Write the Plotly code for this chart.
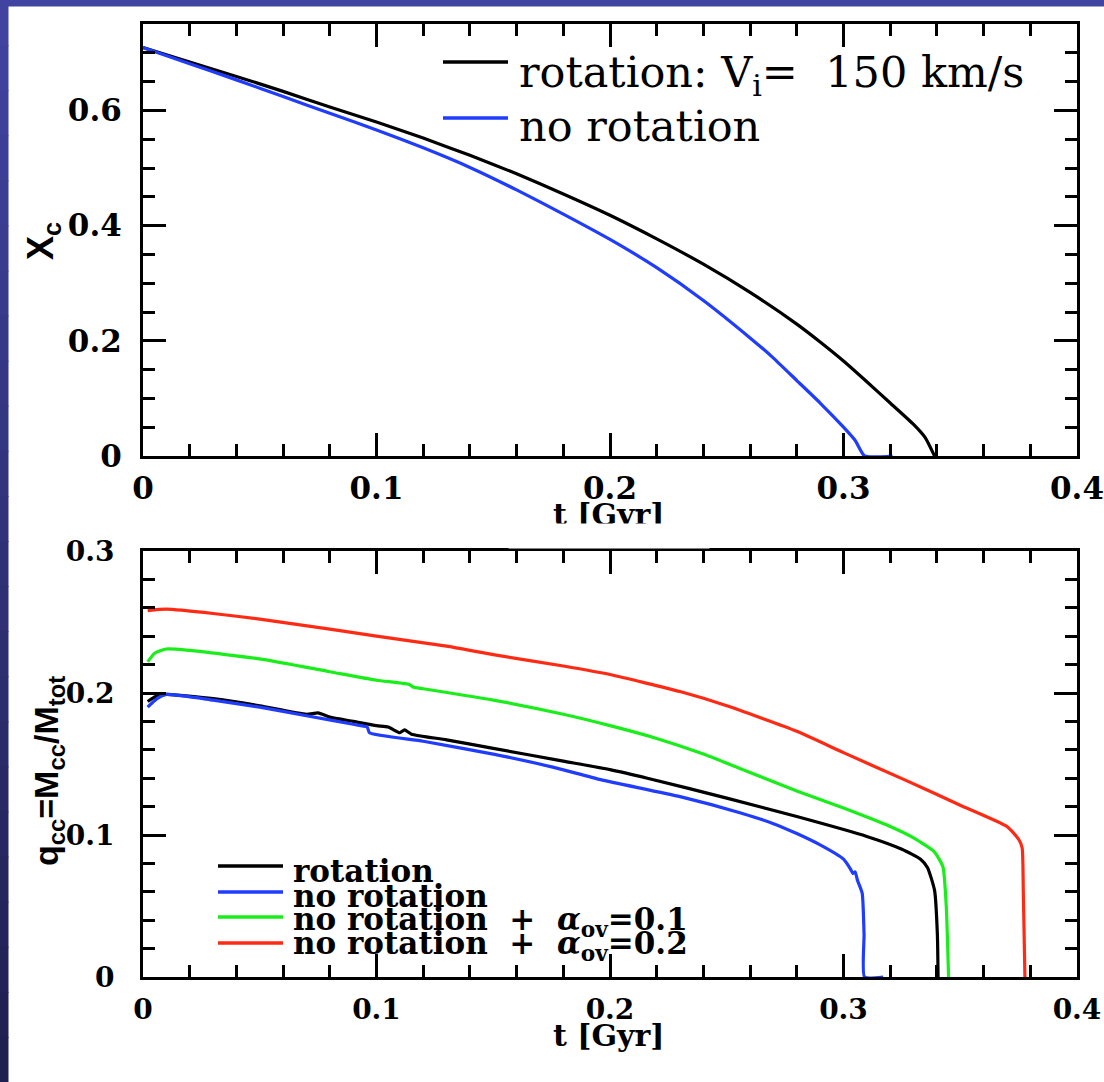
import plotly.graph_objects as go

# ---------------- data ----------------
# top panel: central hydrogen abundance X_c vs time [Gyr]
t_rot = [0, .02, .04, .06, .08, .10, .12, .14, .16, .18, .20, .22, .24, .26, .28, .29, .30, .31, .32, .33, .335, .339]
xc_rot = [.709, .684, .659, .633, .606, .580, .552, .522, .490, .455, .418, .377, .333, .284, .229, .198, .165, .129, .092, .055, .032, 0]
t_norot = [0, .02, .04, .06, .08, .10, .12, .14, .16, .18, .20, .22, .24, .26, .27, .28, .29, .30, .305, .309, .321]
xc_norot = [.709, .681, .653, .624, .595, .566, .535, .501, .462, .420, .376, .327, .270, .205, .170, .131, .092, .050, .027, 0, 0]

# bottom panel: convective core mass fraction q_cc vs time [Gyr]
tq_rot = [.002, .006, .01, .03, .05, .07, .075, .08, .09, .10, .105, .11, .112, .115, .13, .15, .18, .20, .216,
          .25, .28, .31, .325, .333, .336, .339, .3402, .3405]
q_rot = [.194, .198, .199, .196, .191, .185, .186, .183, .180, .177, .176, .172, .174, .171, .167, .161, .152, .146, .140,
         .126, .113, .099, .090, .083, .077, .061, .030, 0]
tq_norot = [.002, .006, .01, .03, .05, .07, .09, .096, .097, .12, .15, .175, .196, .23, .256, .27, .28, .29, .30,
            .303, .304, .305, .306, .308, .3088, .309, .317]
q_norot = [.190, .196, .199, .195, .190, .184, .178, .176, .172, .166, .157, .148, .139, .127, .1155, .108, .101, .093, .083,
           .076, .073, .074, .068, .059, .030, 0, 0]
tq_ov1 = [.002, .005, .01, .02, .05, .08, .10, .114, .116, .12, .15, .18, .20, .22, .24, .26, .28, .30, .32,
          .33, .339, .3426, .344, .345]
q_ov1 = [.222, .228, .231, .230, .224, .215, .209, .206, .204, .203, .195, .185, .177, .168, .157, .144, .131, .119, .106,
         .098, .088, .0775, .05, 0]
tq_ov2 = [.002, .01, .03, .05, .08, .10, .13, .15, .18, .20, .23, .25, .28, .30, .326, .35, .37, .375, .3765, .377, .3777]
q_ov2 = [.258, .259, .256, .252, .245, .240, .233, .227, .219, .213, .201, .191, .173, .158, .139, .121, .106, .097, .091, .06, 0]

x_ticks = [0, 0.1, 0.2, 0.3, 0.4]
x_title = "t [Gyr]"
top_legend = ["rotation: V<sub>i</sub>=  150 km/s", "no rotation"]
bot_legend = ["rotation", "no rotation", "no rotation  +  <i>α</i><sub>ov</sub>=0.1",
              "no rotation  +  <i>α</i><sub>ov</sub>=0.2"]

BLACK, BLUE, GREEN, RED = "#000000", "#1f3cff", "#1aee1a", "#ff2a14"

# ---------------- geometry helpers (pixels -> paper) ----------------
W, H = 1104, 1082
L, R, T, B = 143, 1077, 24, 977


def px(x):
    return (x - L) / (R - L)


def py(y):
    return (B - y) / (B - T)


fig = go.Figure()
lw = 3.2


def add(x, y, col, xa, ya):
    fig.add_trace(go.Scatter(x=x, y=y, mode="lines", line=dict(color=col, width=lw, shape="spline", smoothing=0.5),
                             xaxis=xa, yaxis=ya))


add(t_rot, xc_rot, BLACK, "x", "y")
add(t_norot, xc_norot, BLUE, "x", "y")
add(tq_ov2, q_ov2, RED, "x2", "y2")
add(tq_ov1, q_ov1, GREEN, "x2", "y2")
add(tq_rot, q_rot, BLACK, "x2", "y2")
add(tq_norot, q_norot, BLUE, "x2", "y2")

tick_font_top = dict(family="DejaVu Serif", size=31, color="black", weight="bold")
tick_font_bot = dict(family="DejaVu Serif", size=28, color="black", weight="bold")
common = dict(showline=True, linewidth=3, linecolor="black", mirror="ticks", ticks="inside", automargin=False,
              tickwidth=3, tickcolor="black", ticklen=23, showgrid=False, zeroline=False)
minor_x = dict(dtick=0.02, ticklen=12, tickwidth=3, ticks="inside", tickcolor="black", showgrid=False)

fig.update_layout(
    width=W, height=H,
    margin=dict(l=L, r=W - R, t=T, b=H - B, pad=0, autoexpand=False),
    paper_bgcolor="white", plot_bgcolor="white",
    showlegend=False,
    xaxis=dict(domain=[0, 1], anchor="y", range=[0, 0.4], tickvals=x_ticks, tickfont=tick_font_top,
               ticklabelstandoff=3, minor=minor_x, **common),
    yaxis=dict(domain=[py(456), 1], anchor="x", range=[0, 0.75], dtick=0.2, tickfont=tick_font_top,
               ticklabelstandoff=12,
               minor=dict(dtick=0.05, ticklen=12, tickwidth=3, ticks="inside", tickcolor="black", showgrid=False),
               **common),
    xaxis2=dict(domain=[0, 1], anchor="y2", range=[0, 0.4], tickvals=x_ticks, tickfont=tick_font_bot,
                ticklabelstandoff=5, minor=minor_x, **common),
    yaxis2=dict(domain=[0, py(551)], anchor="x2", range=[0, 0.3], dtick=0.1, tickfont=tick_font_bot,
                ticklabelstandoff=20,
                minor=dict(dtick=0.02, ticklen=12, tickwidth=3, ticks="inside", tickcolor="black", showgrid=False),
                **common),
)

shapes = []
# dark blue frame on the left and top edges (slide background)
n = 24
for i in range(n):
    f = i / (n - 1)
    c0 = (64, 68, 160)
    c1 = (32, 32, 80)
    col = "rgb(%d,%d,%d)" % tuple(round(a + (b - a) * f) for a, b in zip(c0, c1))
    y0 = H * i / n
    y1 = H * (i + 1) / n + 1
    shapes.append(dict(type="rect", xref="paper", yref="paper", x0=px(0), x1=px(8.5), y0=py(y1), y1=py(y0),
                       fillcolor=col, line=dict(width=0), layer="above"))
shapes.append(dict(type="rect", xref="paper", yref="paper", x0=px(0), x1=px(W + 2), y0=py(6.5), y1=py(-1),
                   fillcolor="rgb(64,68,160)", line=dict(width=0), layer="above"))

# legend sample lines
for yy, col in [(62, BLACK), (118, BLUE)]:
    shapes.append(dict(type="line", xref="paper", yref="paper", x0=px(443), x1=px(508), y0=py(yy), y1=py(yy),
                       line=dict(color=col, width=3.5)))
for yy, col in [(866, BLACK), (892, BLUE), (917, GREEN), (943, RED)]:
    shapes.append(dict(type="line", xref="paper", yref="paper", x0=px(218), x1=px(283), y0=py(yy), y1=py(yy),
                       line=dict(color=col, width=3.5)))
fig.update_layout(shapes=shapes)

ann = []
# legend texts
for txt, yc in zip(top_legend, [75, 126]):
    ann.append(dict(text=txt, xref="paper", yref="paper", x=px(517), y=py(yc), xanchor="left", yanchor="middle",
                    showarrow=False, font=dict(family="DejaVu Serif", size=43, color="black")))
for txt, yc in zip(bot_legend, [871, 896, 921, 945]):
    ann.append(dict(text=txt, xref="paper", yref="paper", x=px(291), y=py(yc), xanchor="left", yanchor="middle",
                    showarrow=False, font=dict(family="DejaVu Serif", size=31, color="black", weight="bold")))
# axis titles
title_font = dict(family="DejaVu Serif", size=30, color="black", weight="bold")
ann.append(dict(text=x_title, xref="paper", yref="paper", x=px(609), y=py(1035), xanchor="center", yanchor="middle",
                showarrow=False, font=title_font))
ann.append(dict(text=x_title, xref="paper", yref="paper", x=px(609), y=py(514), xanchor="center", yanchor="middle",
                showarrow=False, font=title_font))
# white box hiding the lower part of the upper x title (as in the reference)
ann.append(dict(text=" ", xref="paper", yref="paper", x=px(609), y=py(523), xanchor="center", yanchor="top",
                width=200, height=24, bgcolor="white", showarrow=False, borderpad=0,
                font=dict(size=10)))
ysf = dict(family="Liberation Sans", size=36, color="black", weight="bold")
ann.append(dict(text="X<sub>c</sub>", xref="paper", yref="paper", x=px(43), y=py(241), xanchor="center",
                yanchor="middle", textangle=-90, showarrow=False, font=ysf))
ann.append(dict(text="q<sub>cc</sub>=M<sub>cc</sub>/M<sub>tot</sub>", xref="paper", yref="paper", x=px(48),
                y=py(771), xanchor="center", yanchor="middle", textangle=-90, showarrow=False,
                font=dict(family="Liberation Sans", size=34, color="black", weight="bold")))
fig.update_layout(annotations=ann)

fig.write_html("out.html")
